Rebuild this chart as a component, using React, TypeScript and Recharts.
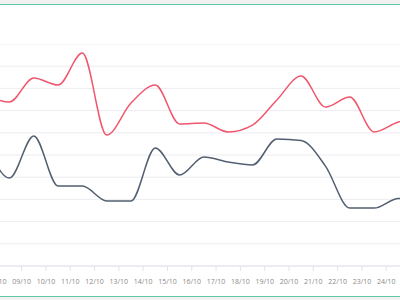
import { CartesianGrid, Line, LineChart, XAxis, YAxis } from 'recharts'

// one point per day, drawn at midday (day + 0.5)
const pointDays = [7, 8, 9, 10, 11, 12, 13, 14, 15, 16, 17, 18, 19, 20, 21, 22, 23, 24, 25]
const redValues = [
  77, 73.9, 84.7, 81.5, 95.9, 59, 73.4, 81.5, 64, 64.4, 60.4, 63.5, 74.8, 85.6, 71.6, 76.1, 60.4,
  64.9, 66.7,
]
const grayValues = [
  56.8, 39.6, 58.6, 36, 36, 29.3, 29.3, 53.2, 41, 49.1, 46.8, 45.5, 57.2, 56.5, 45, 26.1, 26.1,
  30.4, 30.4,
]
const tickDays = [7, 8, 9, 10, 11, 12, 13, 14, 15, 16, 17, 18, 19, 20, 21, 22, 23, 24, 25, 26]
const yTicks = [0, 10, 20, 30, 40, 50, 60, 70, 80, 90, 100]

const chartData = pointDays.map((day, i) => ({
  t: day + 0.5,
  red: redValues[i],
  gray: grayValues[i],
}))

export default function App() {
  return (
    <div
      style={{
        position: 'fixed',
        top: 0,
        left: 0,
        width: 400,
        height: 300,
        overflow: 'hidden',
        background: '#f1f1f1',
      }}
    >
      <div
        style={{
          position: 'absolute',
          top: 4,
          left: 0,
          width: 400,
          height: 293,
          boxSizing: 'border-box',
          background: '#fff',
          borderTop: '1px solid #62c7a7',
          borderBottom: '1px solid #62c7a7',
        }}
      />
      <div style={{ position: 'absolute', top: 44, left: -27 }}>
        <LineChart
          data={chartData}
          height={252}
          margin={{ top: 0, right: 0, bottom: 0, left: 0 }}
          width={474}
        >
          <CartesianGrid stroke="#ececf2" vertical={false} />
          <XAxis
            dataKey="t"
            domain={[7, 26.5]}
            fontFamily="Open Sans"
            fontSize={7}
            height={30}
            interval={0}
            stroke="#e2e2ea"
            tick={{ fill: '#8a8a8a' }}
            tickFormatter={(v) => `${String(v).padStart(2, '0')}/10`}
            tickMargin={8}
            tickSize={5}
            ticks={tickDays}
            type="number"
          />
          <YAxis domain={[0, 100]} hide interval={0} ticks={yTicks} />
          <Line
            dataKey="red"
            dot={false}
            isAnimationActive={false}
            stroke="#f1566d"
            strokeWidth={1.5}
            type="monotone"
          />
          <Line
            dataKey="gray"
            dot={false}
            isAnimationActive={false}
            stroke="#525f70"
            strokeWidth={1.5}
            type="monotone"
          />
        </LineChart>
      </div>
    </div>
  )
}
